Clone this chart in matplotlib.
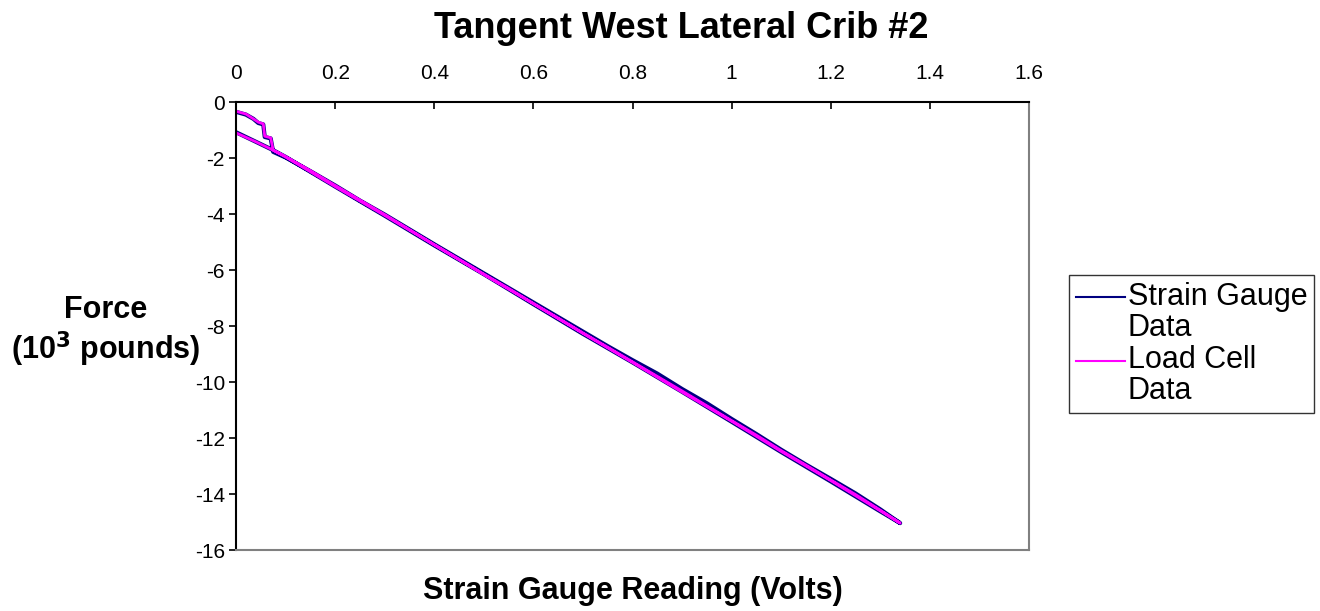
import matplotlib
matplotlib.use("Agg")
import matplotlib.pyplot as plt

plt.rcParams['font.family'] = ['Liberation Sans', 'DejaVu Sans']
plt.rcParams['axes.unicode_minus'] = False

# loading path then unloading path (volts, 10^3 lb)
gauge_x = [0.0, 0.02, 0.035, 0.045, 0.055, 0.058, 0.07, 0.075, 0.1, 0.15, 0.2, 0.25,
           0.3, 0.35, 0.4, 0.45, 0.5, 0.55, 0.6, 0.65, 0.7, 0.75, 0.8, 0.85, 0.9,
           0.95, 1.0, 1.05, 1.1, 1.15, 1.2, 1.25, 1.3, 1.34,
           1.3, 1.2, 1.1, 1.0, 0.9, 0.8, 0.7, 0.6, 0.5, 0.4, 0.3, 0.2, 0.1, 0.075,
           0.04, 0.0]
gauge_y = [-0.35, -0.45, -0.6, -0.75, -0.8, -1.25, -1.3, -1.78, -1.98, -2.47, -2.98, -3.52,
           -4.02, -4.55, -5.08, -5.6, -6.12, -6.64, -7.16, -7.68, -8.2, -8.72, -9.22, -9.7, -10.25,
           -10.76, -11.32, -11.86, -12.42, -12.95, -13.46, -13.98, -14.55, -15.04,
           -14.62, -13.55, -12.5, -11.42, -10.35, -9.3, -8.28, -7.22, -6.15, -5.12, -4.06, -3.02, -1.96, -1.72,
           -1.42, -1.08]

cell_x = [0.0, 0.02, 0.035, 0.045, 0.055, 0.058, 0.07, 0.075, 0.1, 0.15, 0.2, 0.25,
          0.3, 0.35, 0.4, 0.45, 0.5, 0.55, 0.6, 0.65, 0.7, 0.75, 0.8, 0.85, 0.9,
          0.95, 1.0, 1.05, 1.1, 1.15, 1.2, 1.25, 1.3, 1.34,
          1.3, 1.2, 1.1, 1.0, 0.9, 0.8, 0.7, 0.6, 0.5, 0.4, 0.3, 0.2, 0.1, 0.075,
          0.04, 0.0]
cell_y = [-0.33, -0.43, -0.6, -0.72, -0.78, -1.22, -1.28, -1.72, -1.95, -2.45, -2.98, -3.5,
          -4.02, -4.56, -5.1, -5.62, -6.15, -6.66, -7.2, -7.72, -8.25, -8.76, -9.28, -9.8, -10.32,
          -10.85, -11.38, -11.9, -12.45, -12.97, -13.5, -14.02, -14.58, -15.04,
          -14.6, -13.52, -12.48, -11.4, -10.36, -9.3, -8.26, -7.2, -6.16, -5.1, -4.05, -3.02, -1.96, -1.72,
          -1.42, -1.1]

xticks = [0, 0.2, 0.4, 0.6, 0.8, 1, 1.2, 1.4, 1.6]
xtick_labels = ['0', '0.2', '0.4', '0.6', '0.8', '1', '1.2', '1.4', '1.6']
yticks = [0, -2, -4, -6, -8, -10, -12, -14, -16]

fig = plt.figure(figsize=(13.2, 6.11), dpi=100)
ax = fig.add_axes([236 / 1320, 1 - 550 / 611, (1029 - 236) / 1320, (550 - 102) / 611])

ax.plot(gauge_x, gauge_y, color='#000080', lw=3.0, label='Strain Gauge\nData', solid_joinstyle='round')
ax.plot(cell_x, cell_y, color='#FF00FF', lw=2.0, label='Load Cell\nData', solid_joinstyle='round')

ax.set_xlim(0, 1.6)
ax.set_ylim(-16, 0)
ax.set_xticks(xticks)
ax.set_xticklabels(xtick_labels)
ax.set_yticks(yticks)
ax.xaxis.tick_top()
ax.tick_params(axis='x', direction='in', length=5, width=1.2, labelsize=15, pad=14)
ax.tick_params(axis='y', direction='out', length=5, width=1.2, labelsize=15, pad=3)

for side in ['left', 'top']:
    ax.spines[side].set_color('black')
    ax.spines[side].set_linewidth(1.5)
for side in ['right', 'bottom']:
    ax.spines[side].set_color('#808080')
    ax.spines[side].set_linewidth(1.5)

fig.text(681 / 1320, 1 - 28 / 611, 'Tangent West Lateral Crib #2', ha='center', va='center',
         fontsize=26, fontweight='bold')
fig.text(633 / 1320, 1 - 591 / 611, 'Strain Gauge Reading (Volts)', ha='center', va='center',
         fontsize=22, fontweight='bold')
fig.text(106 / 1320, 1 - 332 / 611, 'Force\n(10$^{\\mathbf{3}}$ pounds)', ha='center', va='center',
         fontsize=22, fontweight='bold', linespacing=1.15)

leg = fig.legend(loc='upper left', bbox_to_anchor=(1069 / 1320, 1 - 275 / 611), frameon=True,
                 fontsize=22, handlelength=1.6, handletextpad=0.1, borderpad=0.22,
                 labelspacing=0.08, fancybox=False, borderaxespad=0)
leg.get_frame().set_edgecolor('black')
leg.get_frame().set_linewidth(1.0)
for t in leg.get_texts():
    t.set_linespacing(1.05)
# put each legend line beside the first text line, as in the original
for h in leg.get_lines():
    h.set_linewidth(1.5)
    yd = h.get_ydata()
    h.set_ydata([v + 11.5 for v in yd])

fig.savefig('out.png', dpi=100)
